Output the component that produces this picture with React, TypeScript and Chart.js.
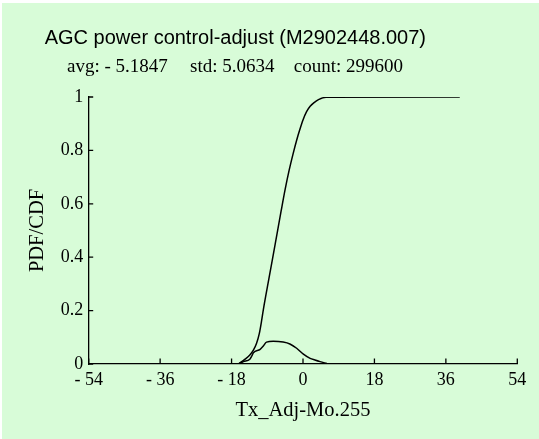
import React, { useEffect, useRef } from "react";
import { Chart, registerables } from "chart.js";

Chart.register(...registerables);

const titleText = "AGC power control-adjust (M2902448.007)";
const statLabels = ["avg: - 5.1847", "std: 5.0634", "count: 299600"];
const xTitle = "Tx_Adj-Mo.255";
const yTitle = "PDF/CDF";

const xTicks = [-54, -36, -18, 0, 18, 36, 54];
const yTicks = [0, 0.2, 0.4, 0.6, 0.8, 1];

const cdfX = [-16.3, -14.6, -13.4, -12.5, -11.7, -11.0, -10.4, -10.0, -8.5, -7.0, -5.5, -4.5, -3.5, -2.5, -1.6, -0.8, 0, 0.9, 1.8, 2.8, 3.9, 5.8, 39.5];
const cdfY = [0, 0.018, 0.034, 0.052, 0.078, 0.115, 0.165, 0.203, 0.327, 0.45, 0.574, 0.654, 0.725, 0.787, 0.838, 0.878, 0.914, 0.945, 0.965, 0.979, 0.99, 0.999, 1.0];

const pdfX = [-16.3, -15.0, -13.4, -12.9, -12.5, -10.8, -10.0, -9.2, -7.5, -5.0, -3.3, -1.6, 0.1, 1.8, 3.0, 4.3, 6.0];
const pdfY = [0, 0.009, 0.018, 0.03, 0.042, 0.055, 0.067, 0.082, 0.085, 0.082, 0.075, 0.059, 0.037, 0.021, 0.015, 0.009, 0.002];

const BG = "rgb(216,252,216)";
const SERIF = '"Liberation Serif", "Times New Roman", serif';
const SANS = '"Liberation Sans", Arial, sans-serif';

const fmtX = (v: number) => (v < 0 ? "- " + Math.abs(v) : String(v));
const fmtY = (v: number) => String(Number(v.toFixed(1)));

const decorPlugin = {
  id: "decor",
  beforeDraw(chart: any) {
    const ctx = chart.ctx;
    ctx.save();
    ctx.fillStyle = "#ffffff";
    ctx.fillRect(0, 0, chart.width, chart.height);
    ctx.fillStyle = BG;
    ctx.fillRect(2, 3, chart.width - 2, chart.height - 3);
    ctx.restore();
  },
  afterDraw(chart: any) {
    const ctx = chart.ctx;
    const xs = chart.scales.x;
    const ys = chart.scales.y;
    const area = chart.chartArea;
    ctx.save();
    ctx.strokeStyle = "#000";
    ctx.lineWidth = 1.3;
    ctx.beginPath();
    xTicks.forEach((v) => {
      const px = xs.getPixelForValue(v);
      ctx.moveTo(px, area.bottom);
      ctx.lineTo(px, area.bottom - 5.5);
    });
    yTicks.forEach((v) => {
      const py = ys.getPixelForValue(v);
      ctx.moveTo(area.left, py);
      ctx.lineTo(area.left + 4.5, py);
    });
    ctx.stroke();

    ctx.fillStyle = "#000";
    ctx.textBaseline = "alphabetic";
    ctx.textAlign = "left";
    ctx.font = "20px " + SANS;
    ctx.fillText(titleText, 44.7, 43.6);
    ctx.font = "19px " + SERIF;
    const statX = [67, 190, 293.8];
    statLabels.forEach((t, i) => ctx.fillText(t, statX[i], 72.2));
    ctx.restore();
  },
};

export default function App() {
  const ref = useRef<HTMLCanvasElement | null>(null);
  useEffect(() => {
    document.body.style.margin = "0";
    const canvas = ref.current;
    if (!canvas) return;
    const chart = new Chart(canvas, {
      type: "line",
      data: {
        datasets: [
          {
            label: "CDF",
            data: cdfX.map((x, i) => ({ x, y: cdfY[i] })),
            borderColor: "#000",
            borderWidth: 1.5,
            pointRadius: 0,
            fill: false,
            cubicInterpolationMode: "monotone",
          },
          {
            label: "PDF",
            data: pdfX.map((x, i) => ({ x, y: pdfY[i] })),
            borderColor: "#000",
            borderWidth: 1.5,
            pointRadius: 0,
            fill: false,
            cubicInterpolationMode: "monotone",
          },
        ],
      },
      options: {
        responsive: false,
        animation: false,
        layout: { padding: { top: 97, right: 21.7, bottom: 0, left: 0 } },
        plugins: { legend: { display: false }, tooltip: { enabled: false }, title: { display: false } },
        scales: {
          x: {
            type: "linear",
            min: -54,
            max: 54,
            afterFit: (s: any) => {
              s.height = 75;
            },
            afterBuildTicks: (s: any) => {
              s.ticks = xTicks.map((v) => ({ value: v }));
            },
            grid: { display: false, drawTicks: false },
            border: { display: true, color: "#000", width: 1.3 },
            ticks: {
              color: "#000",
              padding: 5,
              maxRotation: 0,
              font: { family: SERIF, size: 18 },
              callback: (v: any) => fmtX(Number(v)),
            },
            title: {
              display: true,
              text: xTitle,
              color: "#000",
              font: { family: SERIF, size: 20.5 },
              padding: { top: 0, bottom: 16 },
            },
          },
          y: {
            type: "linear",
            min: 0,
            max: 1,
            afterFit: (s: any) => {
              s.width = 88.7;
            },
            afterBuildTicks: (s: any) => {
              s.ticks = yTicks.map((v) => ({ value: v }));
            },
            grid: { display: false, drawTicks: false },
            border: { display: true, color: "#000", width: 1.3 },
            ticks: {
              color: "#000",
              padding: 5.4,
              font: { family: SERIF, size: 18 },
              callback: (v: any) => fmtY(Number(v)),
            },
            title: {
              display: true,
              text: yTitle,
              color: "#000",
              font: { family: SERIF, size: 20.5 },
              padding: { top: 25, bottom: 0 },
            },
          },
        },
      },
      plugins: [decorPlugin],
    } as any);
    return () => chart.destroy();
  }, []);
  return (
    <div style={{ width: 539, height: 439 }}>
      <canvas ref={ref} width={539} height={439} style={{ display: "block" }} />
    </div>
  );
}
